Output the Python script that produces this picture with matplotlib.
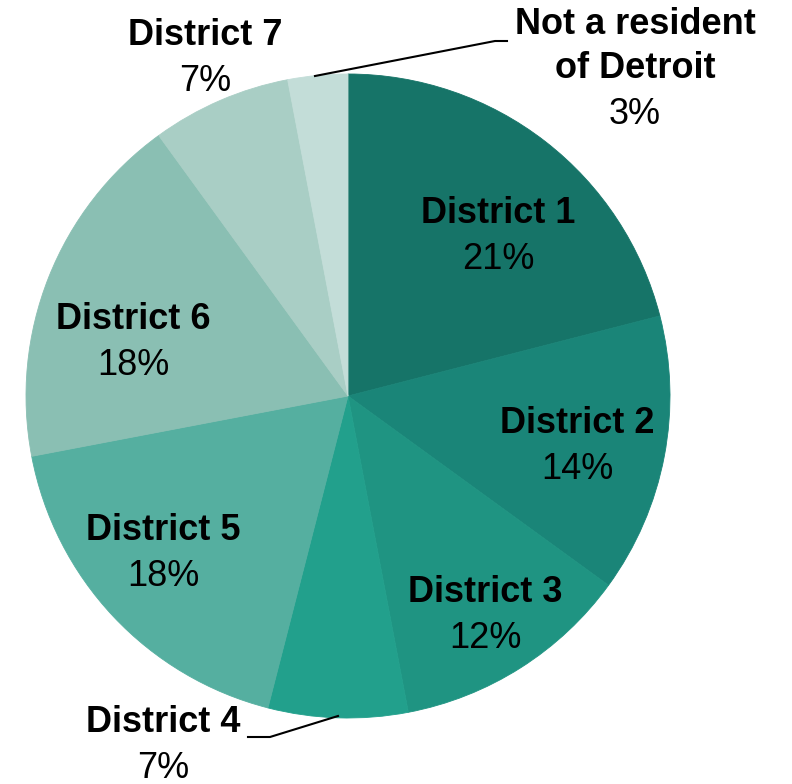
import matplotlib.pyplot as plt

districts = ["District 1", "District 2", "District 3", "District 4",
             "District 5", "District 6", "District 7", "Not a resident\nof Detroit"]
shares = [21, 14, 12, 7, 18, 18, 7, 3]
colors = ["#167468", "#1a8578", "#1f9482", "#22a08c",
          "#55afa0", "#8abfb3", "#a9cec5", "#c3ddd8"]

H = 784
fig = plt.figure(figsize=(7.92, 7.84), dpi=100)
ax = fig.add_axes([0, 0, 1, 1])

wedges, _ = ax.pie(shares, colors=colors, startangle=90, counterclock=False,
                   center=(348, H - 396), radius=322, frame=True,
                   wedgeprops=dict(linewidth=0.6))
# edges same colour as the fill so no white seams
for w, c in zip(wedges, colors):
    w.set_edgecolor(c)
ax.set_xlim(0, 792)
ax.set_ylim(0, H)
ax.set_aspect("equal")
ax.axis("off")

# label positions in pixels (top-left origin)
pos = [(498, 213), (577, 423), (485, 592), (163, 723),
       (163, 531), (133, 319), (205, 35), (635, 24)]
font = "Liberation Sans"
for name, v, (x, y) in zip(districts, shares, pos):
    lines = name.split("\n")
    for k, ln in enumerate(lines):
        ax.text(x, H - (y + 44 * k), ln, ha="center", va="center",
                fontsize=26, fontweight="bold", family=font, color="black")
    ax.text(x, H - (y + 44 * len(lines) + 2), f"{v}%", ha="center", va="center",
            fontsize=26, family=font, color="black")

# leader lines
ax.plot([315, 495, 507], [H - 76, H - 41, H - 41], color="black", lw=1.5)
ax.plot([248, 270, 338], [H - 737, H - 737, H - 716], color="black", lw=1.5)

fig.savefig("out.png", dpi=100)
